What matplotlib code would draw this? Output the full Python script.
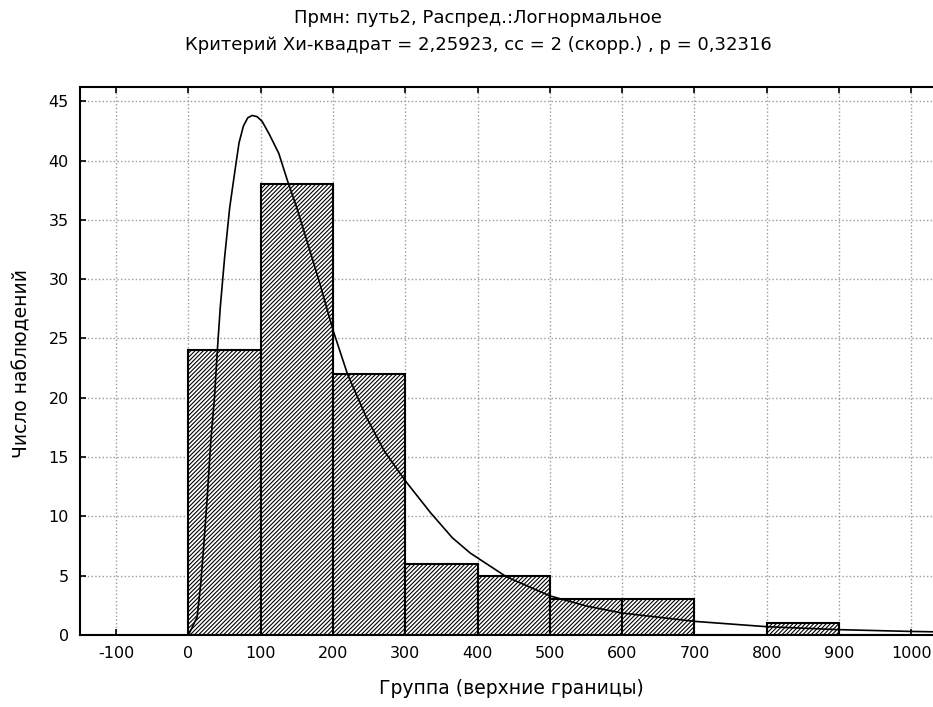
import matplotlib
matplotlib.use('Agg')
import matplotlib.pyplot as plt

# широкий шрифт ближе к растровому шрифту оригинала
plt.rcParams['font.family'] = ['DejaVu Sans']
plt.rcParams['hatch.linewidth'] = 0.8
plt.rcParams['axes.unicode_minus'] = False

# данные гистограммы (верхние границы групп)
bin_left = [0, 100, 200, 300, 400, 500, 600, 700, 800, 900]
counts = [24, 38, 22, 6, 5, 3, 3, 0, 1, 0]
bin_width = 100

# подогнанная логнормальная кривая (точки)
curve_x = [0, 12, 17, 21, 26, 31, 36, 40, 44, 50, 57, 64, 70, 76, 82, 88, 95,
           102, 112, 125, 137, 150, 165, 180, 200, 220, 245, 271, 300, 335,
           365, 390, 440, 500, 550, 600, 700, 800, 900, 1000, 1050]
curve_y = [0, 1.5, 4.3, 7.4, 11.6, 16.4, 20.0, 24.0, 27.6, 31.8, 36.0, 39.0,
           41.5, 42.9, 43.6, 43.8, 43.7, 43.3, 42.2, 40.6, 38.3, 36.0, 33.0,
           30.0, 25.7, 22.0, 18.5, 15.5, 13.0, 10.3, 8.2, 6.9, 4.9, 3.3, 2.45,
           1.85, 1.15, 0.7, 0.45, 0.3, 0.25]

x_ticks = [-100, 0, 100, 200, 300, 400, 500, 600, 700, 800, 900, 1000]
y_ticks = [0, 5, 10, 15, 20, 25, 30, 35, 40, 45]

title1 = 'Прмн: путь2, Распред.:Логнормальное'
title2 = 'Критерий Хи-квадрат = 2,25923, сс = 2 (скорр.) , p = 0,32316'

fig = plt.figure(figsize=(9.33, 7.07), dpi=100)
fig.patch.set_facecolor('white')
# правый край оси уходит за пределы картинки (как в оригинале)
ax = fig.add_axes([80 / 933, (707 - 635) / 707, (947.5 - 80) / 933, (635 - 87) / 707])

ax.bar(bin_left, counts, width=bin_width, align='edge', facecolor='white',
       edgecolor='black', linewidth=1.5, hatch='////////', zorder=2)
ax.plot(curve_x, curve_y, color='black', linewidth=1.2, zorder=3)

ax.set_xlim(-150, 1050)
ax.set_ylim(0, 46.2)
ax.set_xticks(x_ticks)
ax.set_yticks(y_ticks)
ax.grid(True, color='#9a9a9a', linestyle=':', linewidth=1.0, zorder=0)
ax.set_axisbelow(True)

ax.tick_params(direction='in', top=True, right=True, length=4, width=1.2,
               labelsize=11.5, pad=8, colors='black')
for sp in ax.spines.values():
    sp.set_linewidth(1.5)

fig.text(478 / 933, 1 - 18 / 707, title1, ha='center', va='center', fontsize=13)
fig.text(478 / 933, 1 - 45 / 707, title2, ha='center', va='center', fontsize=13)
fig.text(511 / 933, 1 - 688 / 707, 'Группа (верхние границы)', ha='center',
         va='center', fontsize=13.5)
fig.text(22 / 933, 1 - 364 / 707, 'Число наблюдений', ha='center', va='center',
         rotation=90, fontsize=13.5)

fig.savefig('out.png', dpi=100, facecolor='white')
plt.close(fig)
